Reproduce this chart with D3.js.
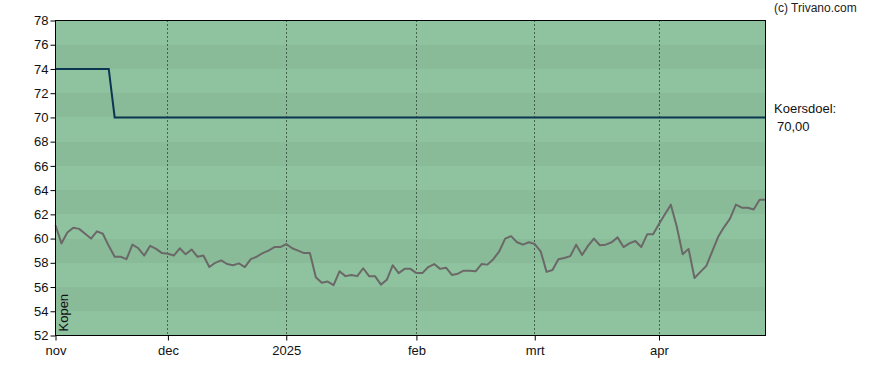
<!DOCTYPE html>
<html>
<head>
<meta charset="utf-8">
<script src="https://cdn.jsdelivr.net/npm/d3@7.9.0/dist/d3.min.js"></script>
<style>
  html, body { margin: 0; padding: 0; background: #fff; }
  svg { display: block; font-family: "Liberation Sans", Arial, sans-serif; }
  .axis text { font-size: 13px; fill: #111; }
  .axis line { stroke: #000; }
</style>
</head>
<body>
<svg id="chart" width="888" height="370"></svg>
<script>
// daily closes, one per trading day (nov -> end of apr)
const priceValues = [
  61.1, 59.6, 60.5, 60.9, 60.8, 60.4, 60.0, 60.6, 60.4, 59.4,
  58.5, 58.5, 58.3, 59.5, 59.2, 58.6, 59.4, 59.15, 58.8, 58.75,
  58.6, 59.2, 58.7, 59.1, 58.5, 58.6, 57.65, 58.0, 58.2, 57.9,
  57.8, 57.95, 57.65, 58.3, 58.5, 58.8, 59.0, 59.3, 59.3, 59.55,
  59.2, 59.0, 58.8, 58.8, 56.8, 56.35, 56.45, 56.15, 57.3, 56.9,
  57.0, 56.9, 57.55, 56.9, 56.9, 56.2, 56.6, 57.8, 57.15, 57.5,
  57.5, 57.15, 57.15, 57.65, 57.9, 57.5, 57.6, 57.0, 57.1, 57.35,
  57.35, 57.3, 57.9, 57.85, 58.3, 58.95, 60.0, 60.2, 59.7, 59.5,
  59.7, 59.55, 58.95, 57.25, 57.4, 58.3, 58.4, 58.55, 59.5, 58.65,
  59.4, 60.0, 59.45, 59.5, 59.7, 60.1, 59.3, 59.6, 59.8, 59.3,
  60.35, 60.35, 61.2, 62.0, 62.8, 61.0, 58.7, 59.15, 56.75, 57.25,
  57.75, 58.95, 60.15, 60.95, 61.65, 62.8, 62.55, 62.55, 62.4, 63.2,
  63.2
];

// koersdoel (price target) as step points
const targetDays = [0, 9, 10, 120];
const targetValues = [74, 74, 70, 70];

const monthLabels = ['nov', 'dec', '2025', 'feb', 'mrt', 'apr'];
const monthDays = [0, 19, 39, 61, 81, 102];

const yTicks = [52, 54, 56, 58, 60, 62, 64, 66, 68, 70, 72, 74, 76, 78];

const plotLeft = 55.5, plotRight = 765.5, plotTop = 20.5, plotBottom = 335.5;

const svg = d3.select('#chart');

const x = d3.scaleLinear().domain([0, priceValues.length - 1]).range([plotLeft, plotRight]);
const y = d3.scaleLinear().domain([52, 78]).range([plotBottom, plotTop]);

// alternating bands every 2 units (snapped to whole pixels so no seams)
const bands = d3.pairs(yTicks);
svg.append('g')
  .attr('shape-rendering', 'crispEdges')
  .selectAll('rect')
  .data(bands)
  .join('rect')
  .attr('x', plotLeft)
  .attr('width', plotRight - plotLeft)
  .attr('y', d => Math.round(y(d[1])))
  .attr('height', d => Math.round(y(d[0])) - Math.round(y(d[1])))
  .attr('fill', (d, i) => i % 2 === 0 ? '#8fc3a0' : '#89bb99');

// dotted month lines
svg.append('g').selectAll('line')
  .data(monthDays.slice(1))
  .join('line')
  .attr('x1', d => Math.floor(x(d)) + 0.5)
  .attr('x2', d => Math.floor(x(d)) + 0.5)
  .attr('y1', plotTop)
  .attr('y2', plotBottom)
  .attr('stroke', '#000')
  .attr('stroke-width', 1)
  .attr('stroke-dasharray', '1,3');

// price line
const priceLine = d3.line()
  .x((d, i) => x(i))
  .y(d => y(d));

svg.append('path')
  .datum(priceValues)
  .attr('d', priceLine)
  .attr('fill', 'none')
  .attr('stroke', '#6b6868')
  .attr('stroke-width', 2)
  .attr('stroke-linejoin', 'round');

// target line
const targetLine = d3.line()
  .x(d => x(d[0]))
  .y(d => y(d[1]));

svg.append('path')
  .datum(d3.zip(targetDays, targetValues))
  .attr('d', targetLine)
  .attr('fill', 'none')
  .attr('stroke', '#0b3551')
  .attr('stroke-width', 2);

// frame
svg.append('rect')
  .attr('x', plotLeft)
  .attr('y', plotTop)
  .attr('width', plotRight - plotLeft)
  .attr('height', plotBottom - plotTop)
  .attr('fill', 'none')
  .attr('stroke', '#000')
  .attr('stroke-width', 1);

// axes
const yAxis = svg.append('g')
  .attr('class', 'axis')
  .attr('transform', `translate(${plotLeft},0)`)
  .call(d3.axisLeft(y).tickValues(yTicks).tickSize(5).tickPadding(2).tickFormat(d3.format('d')));
yAxis.select('.domain').remove();

const xAxis = svg.append('g')
  .attr('class', 'axis')
  .attr('transform', `translate(0,${plotBottom})`)
  .call(d3.axisBottom(x).tickValues(monthDays).tickSize(5).tickPadding(5)
    .tickFormat((d, i) => monthLabels[i]));
xAxis.select('.domain').remove();

// advice label inside plot
svg.append('text')
  .attr('transform', `translate(${plotLeft + 12},${plotBottom - 4}) rotate(-90)`)
  .attr('font-size', 13)
  .attr('fill', '#111')
  .text('Kopen');

// right-hand annotations
svg.append('text')
  .attr('x', 774)
  .attr('y', 12)
  .attr('font-size', 12)
  .attr('fill', '#222')
  .text('(c) Trivano.com');

svg.append('text')
  .attr('x', 774)
  .attr('y', y(70) - 4)
  .attr('font-size', 13)
  .attr('fill', '#111')
  .text('Koersdoel:');

svg.append('text')
  .attr('x', 777)
  .attr('y', y(70) + 14)
  .attr('font-size', 13)
  .attr('fill', '#111')
  .text(d3.format(',.2f')(targetValues[targetValues.length - 1]).replace('.', ','));
</script>
</body>
</html>
